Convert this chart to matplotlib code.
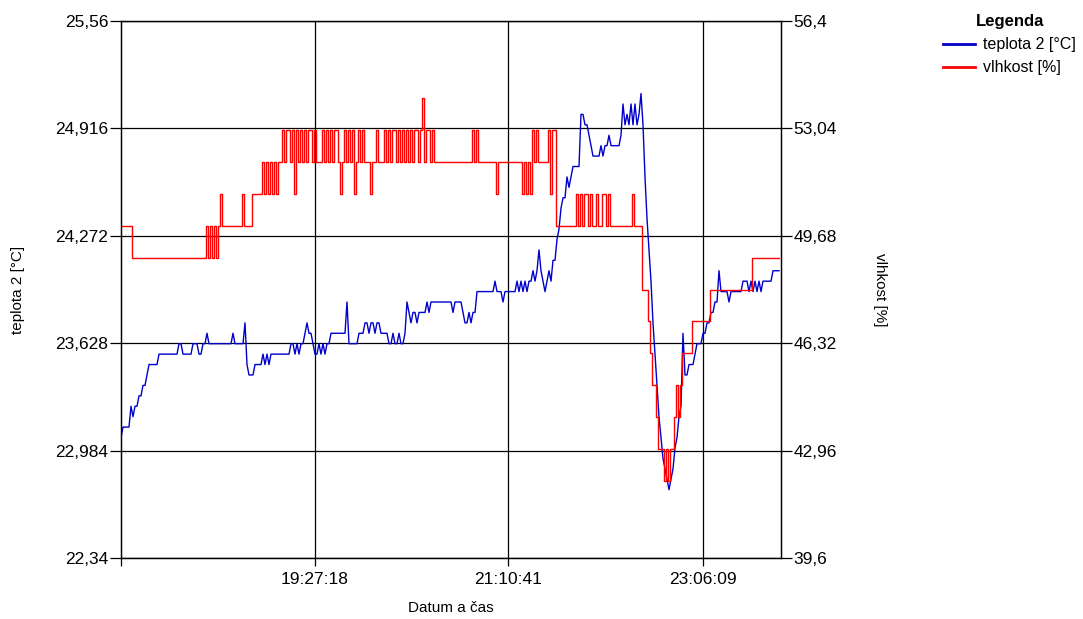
import matplotlib
matplotlib.use("Agg")
import matplotlib.pyplot as plt
from matplotlib.ticker import FixedLocator

plt.rcParams['font.family'] = ['Liberation Sans', 'DejaVu Sans']

# teplota 2 [°C], one reading per sample
teplota = [
    23.0625, 23.125, 23.125, 23.125, 23.125, 23.25, 23.1875, 23.25, 23.25, 23.3125,
    23.3125, 23.375, 23.375, 23.4375, 23.5, 23.5, 23.5, 23.5, 23.5, 23.5625,
    23.5625, 23.5625, 23.5625, 23.5625, 23.5625, 23.5625, 23.5625, 23.5625, 23.5625, 23.625,
    23.625, 23.5625, 23.5625, 23.5625, 23.5625, 23.5625, 23.625, 23.625, 23.625, 23.5625,
    23.5625, 23.625, 23.625, 23.6875, 23.625, 23.625, 23.625, 23.625, 23.625, 23.625,
    23.625, 23.625, 23.625, 23.625, 23.625, 23.625, 23.6875, 23.625, 23.625, 23.625,
    23.625, 23.625, 23.75, 23.5, 23.4375, 23.4375, 23.4375, 23.5, 23.5, 23.5,
    23.5, 23.5625, 23.5, 23.5625, 23.5, 23.5625, 23.5625, 23.5625, 23.5625, 23.5625,
    23.5625, 23.5625, 23.5625, 23.5625, 23.5625, 23.625, 23.625, 23.5625, 23.625, 23.5625,
    23.625, 23.625, 23.6875, 23.75, 23.6875, 23.6875, 23.625, 23.5625, 23.5625, 23.625,
    23.5625, 23.625, 23.5625, 23.625, 23.625, 23.6875, 23.6875, 23.6875, 23.6875, 23.6875,
    23.6875, 23.6875, 23.6875, 23.875, 23.625, 23.625, 23.625, 23.625, 23.625, 23.6875,
    23.6875, 23.6875, 23.75, 23.75, 23.6875, 23.75, 23.75, 23.6875, 23.75, 23.75,
    23.6875, 23.6875, 23.6875, 23.6875, 23.625, 23.625, 23.6875, 23.625, 23.625, 23.6875,
    23.625, 23.625, 23.6875, 23.875, 23.8125, 23.75, 23.8125, 23.8125, 23.75, 23.8125,
    23.8125, 23.8125, 23.8125, 23.875, 23.8125, 23.875, 23.875, 23.875, 23.875, 23.875,
    23.875, 23.875, 23.875, 23.875, 23.875, 23.875, 23.8125, 23.875, 23.875, 23.875,
    23.875, 23.8125, 23.75, 23.75, 23.8125, 23.75, 23.8125, 23.8125, 23.9375, 23.9375,
    23.9375, 23.9375, 23.9375, 23.9375, 23.9375, 23.9375, 23.9375, 24.0, 23.9375, 23.9375,
    23.9375, 23.875, 23.9375, 23.9375, 23.9375, 23.9375, 23.9375, 23.9375, 24.0, 23.9375,
    24.0, 23.9375, 24.0, 23.9375, 24.0, 24.0, 24.0625, 24.0, 24.0625, 24.1875,
    24.0625, 24.0, 23.9375, 24.0, 24.0625, 24.0, 24.125, 24.125, 24.25, 24.3125,
    24.4375, 24.5, 24.5, 24.625, 24.5625, 24.625, 24.6875, 24.6875, 24.6875, 24.6875,
    25.0, 25.0, 24.9375, 24.9375, 24.875, 24.8125, 24.75, 24.75, 24.75, 24.75,
    24.8125, 24.75, 24.8125, 24.8125, 24.875, 24.8125, 24.8125, 24.8125, 24.8125, 24.8125,
    24.875, 25.0625, 24.9375, 25.0, 24.9375, 25.0625, 24.9375, 25.0625, 24.9375, 25.0,
    25.125, 24.9375, 24.625, 24.375, 24.1875, 24.0, 23.75, 23.5625, 23.375, 23.1875,
    23.0625, 22.9375, 22.875, 22.8125, 22.75, 22.8125, 22.875, 23.0, 23.0625, 23.1875,
    23.25, 23.6875, 23.4375, 23.4375, 23.5, 23.5, 23.5, 23.5625, 23.625, 23.625,
    23.625, 23.6875, 23.6875, 23.75, 23.75, 23.8125, 23.8125, 23.875, 23.875, 24.0625,
    23.9375, 23.9375, 23.9375, 23.9375, 23.875, 23.9375, 23.9375, 23.9375, 23.9375, 23.9375,
    23.9375, 24.0, 24.0, 24.0, 23.9375, 24.0, 23.9375, 24.0, 23.9375, 24.0,
    23.9375, 24.0, 24.0, 24.0, 24.0, 24.0, 24.0625, 24.0625, 24.0625, 24.0625,
]

# vlhkost [%], same samples
vlhkost = [
    50, 50, 50, 50, 50, 50, 49, 49, 49, 49,
    49, 49, 49, 49, 49, 49, 49, 49, 49, 49,
    49, 49, 49, 49, 49, 49, 49, 49, 49, 49,
    49, 49, 49, 49, 49, 49, 49, 49, 49, 49,
    49, 49, 49, 50, 49, 50, 49, 50, 49, 50,
    51, 50, 50, 50, 50, 50, 50, 50, 50, 50,
    50, 51, 50, 50, 50, 50, 51, 51, 51, 51,
    51, 52, 51, 52, 51, 52, 51, 52, 51, 52,
    52, 53, 52, 53, 53, 52, 53, 51, 53, 52,
    53, 52, 53, 52, 53, 53, 52, 53, 52, 52,
    52, 53, 52, 53, 52, 53, 52, 53, 53, 52,
    51, 52, 53, 52, 53, 52, 53, 51, 52, 53,
    52, 53, 52, 52, 52, 51, 52, 52, 53, 52,
    52, 52, 53, 52, 53, 52, 53, 53, 52, 53,
    52, 53, 52, 53, 52, 53, 52, 53, 53, 52,
    53, 54, 52, 53, 53, 52, 53, 52, 52, 52,
    52, 52, 52, 52, 52, 52, 52, 52, 52, 52,
    52, 52, 52, 52, 52, 52, 53, 52, 53, 52,
    52, 52, 52, 52, 52, 52, 52, 52, 51, 52,
    52, 52, 52, 52, 52, 52, 52, 52, 52, 52,
    52, 51, 52, 51, 52, 51, 53, 52, 53, 52,
    52, 52, 52, 52, 53, 51, 53, 53, 50, 50,
    50, 50, 50, 50, 50, 50, 50, 50, 51, 50,
    51, 50, 51, 51, 50, 51, 50, 50, 51, 50,
    50, 51, 51, 50, 51, 50, 50, 50, 50, 50,
    50, 50, 50, 50, 50, 50, 51, 50, 50, 50,
    50, 48, 48, 48, 47, 46, 45, 45, 44, 43,
    43, 43, 42, 43, 42, 43, 43, 44, 45, 44,
    45, 46, 46, 46, 46, 46, 47, 47, 47, 47,
    47, 47, 47, 47, 47, 48, 48, 48, 48, 48,
    48, 48, 48, 48, 48, 48, 48, 48, 48, 48,
    48, 48, 48, 48, 48, 48, 49, 49, 49, 49,
    49, 49, 49, 49, 49, 49, 49, 49, 49, 49,
]

time_ticks = [97, 193.5, 291]
time_labels = ["19:27:18", "21:10:41", "23:06:09"]
t_ticks = [22.34, 22.984, 23.628, 24.272, 24.916, 25.56]
t_labels = ["22,34", "22,984", "23,628", "24,272", "24,916", "25,56"]
h_ticks = [39.6, 42.96, 46.32, 49.68, 53.04, 56.4]
h_labels = ["39,6", "42,96", "46,32", "49,68", "53,04", "56,4"]

fig = plt.figure(figsize=(10.83, 6.19), dpi=100)
ax = fig.add_axes([121 / 1083, 61 / 619, 660 / 1083, 537 / 619])
ax2 = ax.twinx()

x = list(range(len(teplota)))
l1, = ax.plot(x, teplota, color="#0000cc", lw=1.0, label="teplota 2 [°C]")
l2, = ax2.plot(x, vlhkost, color="#ff0000", lw=1.0, drawstyle="steps-mid",
               label="vlhkost [%]")

ax.set_xlim(0, 330)
ax.set_ylim(t_ticks[0], t_ticks[-1])
ax2.set_ylim(h_ticks[0], h_ticks[-1])

ax.xaxis.set_major_locator(FixedLocator([0] + time_ticks))
ax.set_xticklabels([""] + time_labels)
ax.set_yticks(t_ticks)
ax.set_yticklabels(t_labels)
ax2.set_yticks(h_ticks)
ax2.set_yticklabels(h_labels)

ax.grid(True, color="black", lw=0.9)
ax.tick_params(axis="y", length=8, width=0.9, labelsize=12.5, colors="black", pad=1)
ax.tick_params(axis="x", length=6, width=0.9, labelsize=12.5, colors="black", pad=4)
ax2.tick_params(axis="y", length=8, width=0.9, labelsize=12.5, colors="black", pad=1)
for a in (ax, ax2):
    for s in a.spines.values():
        s.set_linewidth(0.9)
    a.set_facecolor("none")
# no vertical gridline at the left edge tick
for gl, pos in zip(ax.get_xgridlines(), [0] + time_ticks):
    if pos == 0:
        gl.set_visible(False)

ax.set_ylabel("teplota 2 [°C]", fontsize=11)
ax.yaxis.set_label_coords(-0.146, 0.5)
ax2.set_ylabel("vlhkost [%]", fontsize=11, rotation=-90, va="center")
ax2.yaxis.set_label_coords(1.15, 0.5)
ax.set_xlabel("Datum a čas", fontsize=11)
ax.xaxis.set_label_coords(0.5, -0.0935)
ax.xaxis.label.set_va("center")

leg = fig.legend(handles=[l1, l2], loc="upper left", bbox_to_anchor=(932 / 1083, 1 - 3 / 619),
                 frameon=False, fontsize=11.5, title="Legenda", handlelength=2.0,
                 handletextpad=0.5, labelspacing=0.5, borderpad=0.2)
leg.get_title().set_fontweight("bold")
leg.get_title().set_fontsize(12)
for ln in leg.get_lines():
    ln.set_linewidth(2)

fig.savefig("out.png", dpi=100)
